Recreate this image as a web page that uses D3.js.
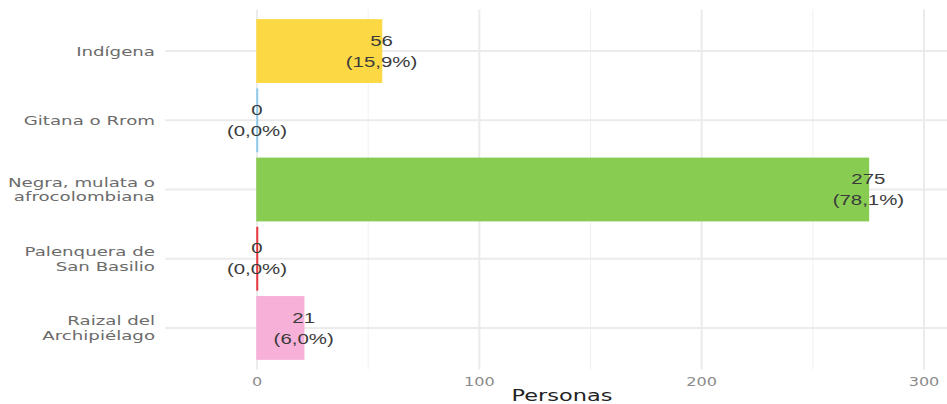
<!DOCTYPE html>
<html>
<head>
<meta charset="utf-8">
<script src="https://cdn.jsdelivr.net/npm/d3@7"></script>
<style>
  body { margin: 0; background: #fff; }
  text { font-family: "DejaVu Sans", Verdana, sans-serif; }
</style>
</head>
<body>
<div id="chart"></div>
<script>
// data
var categories = ["Indígena", "Gitana o Rrom", "Negra, mulata o afrocolombiana", "Palenquera de San Basilio", "Raizal del Archipiélago"];
var catLines = [["Indígena"], ["Gitana o Rrom"], ["Negra, mulata o", "afrocolombiana"], ["Palenquera de", "San Basilio"], ["Raizal del", "Archipiélago"]];
var personas = [56, 0, 275, 0, 21];
var pctLabels = ["15,9%", "0,0%", "78,1%", "0,0%", "6,0%"];
var barColors = ["#fcd944", "#8ec9ea", "#88cc52", "#e8363c", "#f7b1d8"];
var xTicks = [0, 100, 200, 300];
var xMinor = [50, 150, 250];

var width = 947, height = 404;
var panel = { left: 165, right: 947, top: 9.5, bottom: 369.5 };
var stretch = 1.4; // the source picture is wider than tall text would be

var svg = d3.select("#chart").append("svg")
    .attr("width", width)
    .attr("height", height);

var x = d3.scaleLinear().domain([0, 300]).range([257, 924]);
var y = d3.scaleBand().domain(categories)
    .range([panel.top, panel.bottom])
    .paddingInner(0.1)
    .paddingOuter(0.15);
var yc = d => y(d) + y.bandwidth() / 2;

function place(px, py, sx) {
  return "translate(" + px + "," + py + ") scale(" + sx + ",1)";
}

// grid
var grid = svg.append("g");
grid.selectAll(".minor").data(xMinor).enter().append("line")
    .attr("x1", d => x(d)).attr("x2", d => x(d))
    .attr("y1", panel.top).attr("y2", panel.bottom)
    .attr("stroke", "#f0f0f0").attr("stroke-width", 1);
grid.selectAll(".major").data(xTicks).enter().append("line")
    .attr("x1", d => x(d)).attr("x2", d => x(d))
    .attr("y1", panel.top).attr("y2", panel.bottom)
    .attr("stroke", "#ebebeb").attr("stroke-width", 2);
grid.selectAll(".hmajor").data(categories).enter().append("line")
    .attr("x1", panel.left).attr("x2", panel.right)
    .attr("y1", yc).attr("y2", yc)
    .attr("stroke", "#ebebeb").attr("stroke-width", 2);

// bars
svg.selectAll(".bar").data(categories).enter().append("rect")
    .attr("x", x(0))
    .attr("y", d => y(d))
    .attr("width", (d, i) => Math.max(x(personas[i]) - x(0), 0.5))
    .attr("height", y.bandwidth())
    .attr("fill", (d, i) => barColors[i])
    .attr("stroke", (d, i) => barColors[i])
    .attr("stroke-width", 1.5);

// value labels
var lab = svg.selectAll(".lab").data(categories).enter().append("g");
lab.append("text")
    .attr("transform", (d, i) => place(x(personas[i]), yc(d) - 10.5, stretch))
    .attr("text-anchor", "middle").attr("dy", "0.35em")
    .style("font-family", "'Liberation Sans', Arial, sans-serif")
    .attr("font-size", 14.6).attr("fill", "#3a3a3a")
    .text((d, i) => personas[i]);
lab.append("text")
    .attr("transform", (d, i) => place(x(personas[i]), yc(d) + 10.5, stretch))
    .attr("text-anchor", "middle").attr("dy", "0.35em")
    .style("font-family", "'Liberation Sans', Arial, sans-serif")
    .attr("font-size", 14.6).attr("fill", "#3a3a3a")
    .text((d, i) => "(" + pctLabels[i] + ")");

// category labels
var cat = svg.selectAll(".cat").data(categories).enter().append("text")
    .attr("text-anchor", "end")
    .attr("font-size", 13).attr("fill", "#6b6b6b")
    .attr("transform", d => place(155, yc(d), stretch));
cat.each(function(d, i) {
  var lines = catLines[i];
  var t = d3.select(this);
  lines.forEach(function(l, j) {
    t.append("tspan").attr("x", 0)
      .attr("y", (j - (lines.length - 1) / 2) * 14.5)
      .attr("dy", "0.35em")
      .text(l);
  });
});

// x tick labels
svg.selectAll(".tick").data(xTicks).enter().append("text")
    .attr("transform", d => place(x(d), 382, stretch))
    .attr("dy", "0.35em")
    .attr("text-anchor", "middle")
    .attr("font-size", 11.5).attr("fill", "#8a8a8a")
    .text(d => d);

svg.append("text")
    .attr("transform", place(562, 396, 1.45))
    .attr("dy", "0.35em")
    .attr("text-anchor", "middle")
    .attr("font-size", 15.5).attr("fill", "#222")
    .text("Personas");
</script>
</body>
</html>
